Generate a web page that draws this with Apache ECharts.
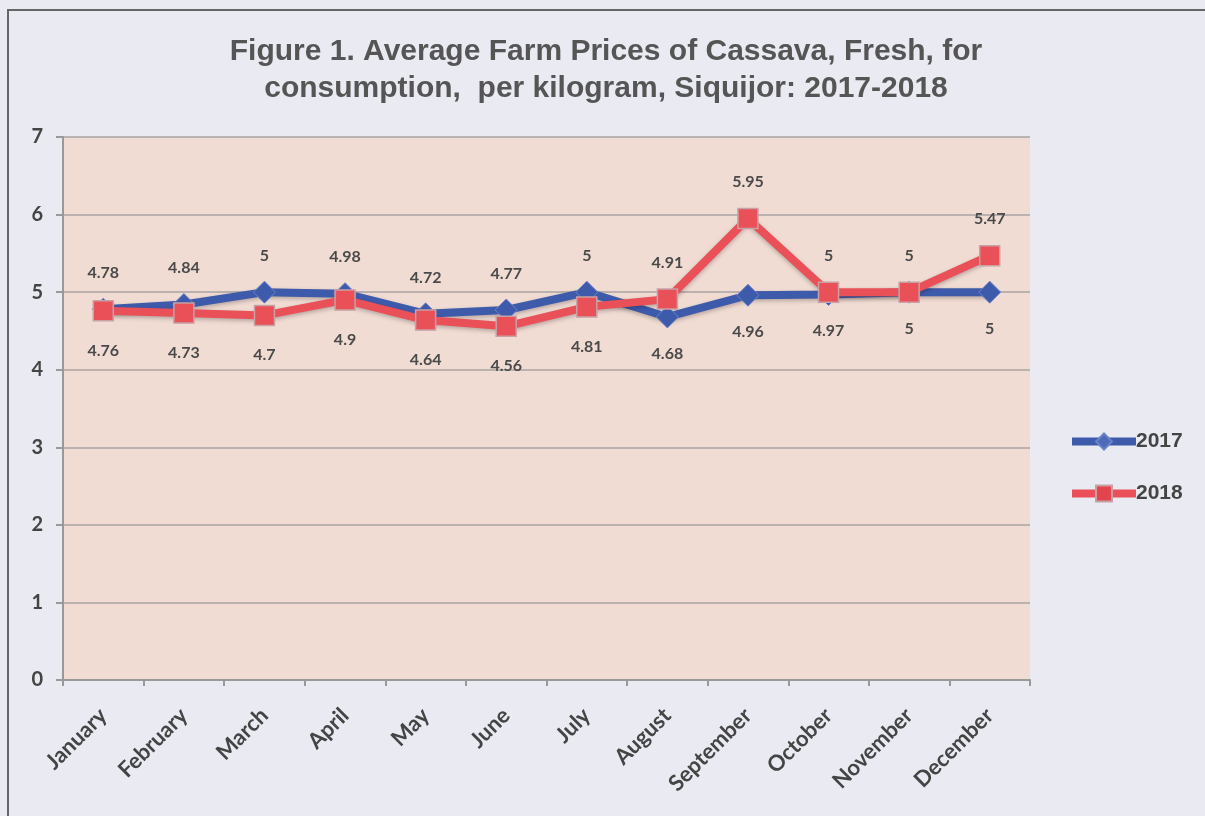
<!DOCTYPE html>
<html>
<head>
<meta charset="utf-8">
<script src="https://cdn.jsdelivr.net/npm/echarts@6/dist/echarts.min.js"></script>
<style>
html,body{margin:0;padding:0;background:#e9eaf2;}
#chart{width:1205px;height:816px;}
</style>
</head>
<body>
<div id="chart"></div>
<script>
const months = ['January','February','March','April','May','June','July','August','September','October','November','December'];
const values2017 = [4.78,4.84,5,4.98,4.72,4.77,5,4.68,4.96,4.97,5,5];
const values2018 = [4.76,4.73,4.7,4.9,4.64,4.56,4.81,4.91,5.95,5,5,5.47];
const labelPos2017 = ['top','top','top','top','top','top','top','bottom','bottom','bottom','bottom','bottom'];
const labelPos2018 = ['bottom','bottom','bottom','bottom','bottom','bottom','bottom','top','top','top','top','top'];
const yTicks = [0,1,2,3,4,5,6,7];

function buildData(vals, pos, topDist, botDist){
  return vals.map((v,i)=>({value:v,label:{position:pos[i],distance:pos[i]==='top'?topDist:botDist}}));
}

const chart = echarts.init(document.getElementById('chart'));
chart.setOption({
  backgroundColor:'#e9eaf2',
  animation:false,
  title:{
    text:'Figure 1. Average Farm Prices of Cassava, Fresh, for\nconsumption,  per kilogram, Siquijor: 2017-2018',
    left:601, textAlign:'center', top:28,
    textStyle:{fontFamily:'Liberation Sans',fontWeight:'bold',fontSize:30,color:'#555',lineHeight:37}
  },
  graphic:[{type:'rect',shape:{x:8,y:10,width:1220,height:830},style:{fill:'none',stroke:'#666',lineWidth:2},silent:true,z:-1}],
  legend:{
    orient:'vertical', left:1068, top:431, padding:0, itemWidth:64, itemHeight:20, itemGap:31,
    textStyle:{fontFamily:'Liberation Sans',fontWeight:'bold',fontSize:21,color:'#444',padding:[0,0,0,-5]},
    data:[
      {name:'2017',lineStyle:{width:8,color:'#3e5aab'},itemStyle:{color:'#4e6ab8'}},
      {name:'2018',lineStyle:{width:8,color:'#ea5058'},itemStyle:{color:'#e2454e'}}
    ]
  },
  grid:{left:63,right:175,top:137,bottom:136,show:true,backgroundColor:'#f1dcd3',borderWidth:0},
  xAxis:{
    type:'category', data:months, boundaryGap:true,
    axisLine:{lineStyle:{color:'#999',width:2}},
    axisTick:{show:true,length:6,lineStyle:{color:'#999',width:2}},
    axisLabel:{rotate:45,margin:32,fontFamily:'Lato',fontWeight:'bold',fontSize:22,color:'#444'}
  },
  yAxis:{
    type:'value', min:yTicks[0], max:yTicks[yTicks.length-1], interval:1,
    axisLine:{show:true,lineStyle:{color:'#999',width:2}},
    axisTick:{show:true,length:7,lineStyle:{color:'#999',width:2}},
    splitLine:{lineStyle:{color:'#a9a4a4',width:1.5}},
    axisLabel:{margin:20,fontFamily:'Lato',fontWeight:'bold',fontSize:20,color:'#444'}
  },
  series:[
    {
      name:'2017', type:'line', data:buildData(values2017,labelPos2017,17,17),
      symbol:'diamond', symbolSize:22,
      lineStyle:{color:'#3e5aab',width:8,shadowColor:'rgba(0,0,0,0.25)',shadowBlur:4,shadowOffsetY:2},
      itemStyle:{color:'#3e5aab',borderColor:'#6a82c8',borderWidth:1},
      label:{show:true,fontFamily:'Lato',fontWeight:'bold',fontSize:16,color:'#4a4a4a'}
    },
    {
      name:'2018', type:'line', data:buildData(values2018,labelPos2018,18,21),
      symbol:'rect', symbolSize:20,
      lineStyle:{color:'#ea5058',width:8,shadowColor:'rgba(0,0,0,0.25)',shadowBlur:4,shadowOffsetY:2},
      itemStyle:{color:'#ea5058',borderColor:'#c9a0a4',borderWidth:1.5},
      label:{show:true,fontFamily:'Lato',fontWeight:'bold',fontSize:16,color:'#4a4a4a'}
    }
  ]
});
</script>
</body>
</html>
